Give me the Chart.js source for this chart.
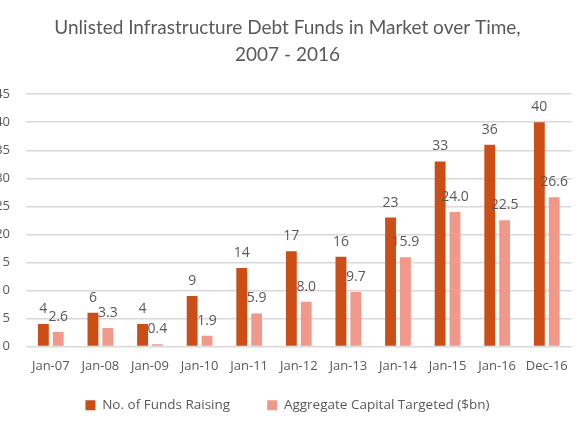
<!DOCTYPE html>
<html>
<head>
<meta charset="utf-8">
<script src="https://cdn.jsdelivr.net/npm/chart.js@4/dist/chart.umd.min.js"></script>
<style>
  html, body { margin: 0; padding: 0; background: #fff; }
  #wrap { width: 580px; height: 435px; position: relative; }
</style>
</head>
<body>
<div id="wrap"><canvas id="c" width="580" height="435"></canvas></div>
<script>
const categories = ["Jan-07","Jan-08","Jan-09","Jan-10","Jan-11","Jan-12","Jan-13","Jan-14","Jan-15","Jan-16","Dec-16"];
const fundsRaising = [4, 6, 4, 9, 14, 17, 16, 23, 33, 36, 40];
const capitalTargeted = [2.6, 3.3, 0.4, 1.9, 5.9, 8.0, 9.7, 15.9, 24.0, 22.5, 26.6];
const titleLines = ["Unlisted Infrastructure Debt Funds in Market over Time,", "2007 - 2016"];
const seriesNames = ["No. of Funds Raising", "Aggregate Capital Targeted ($bn)"];

const textColor = "#595959";
const font = "'Open Sans', 'Noto Sans', sans-serif";

const valueLabels = {
  id: 'valueLabels',
  afterDatasetsDraw(chart) {
    const ctx = chart.ctx;
    ctx.save();
    ctx.font = "14px " + font;
    ctx.fillStyle = textColor;
    ctx.textAlign = "center";
    ctx.textBaseline = "alphabetic";
    chart.data.datasets.forEach((ds, di) => {
      const meta = chart.getDatasetMeta(di);
      meta.data.forEach((bar, i) => {
        const v = ds.data[i];
        const txt = di === 0 ? String(v) : v.toFixed(1);
        ctx.fillText(txt, bar.x, bar.y - 11);
      });
    });
    ctx.restore();
  }
};

new Chart(document.getElementById('c'), {
  type: 'bar',
  data: {
    labels: categories,
    datasets: [
      { label: seriesNames[0], data: fundsRaising, backgroundColor: "#CB4E17",
        categoryPercentage: 0.6, barPercentage: 0.73 },
      { label: seriesNames[1], data: capitalTargeted, backgroundColor: "#F0998A",
        categoryPercentage: 0.6, barPercentage: 0.73 }
    ]
  },
  options: {
    responsive: false,
    animation: false,
    devicePixelRatio: 1,
    layout: { padding: { left: 0, right: 5, top: 0, bottom: 13 } },
    plugins: {
      title: {
        display: true,
        text: titleLines,
        color: textColor,
        font: { family: "Lato, 'Open Sans', sans-serif", size: 19, weight: 'normal', lineHeight: 1.4 },
        padding: { top: 15, bottom: 26 }
      },
      legend: {
        position: 'bottom',
        labels: {
          boxWidth: 10, boxHeight: 10,
          color: textColor,
          font: { family: font, size: 13.5 },
          padding: 23,
          generateLabels(chart) {
            const items = Chart.defaults.plugins.legend.labels.generateLabels(chart);
            items.forEach((it, i) => { if (i < items.length - 1) it.text = it.text + "    "; });
            return items;
          }
        }
      },
      tooltip: { enabled: false }
    },
    scales: {
      x: {
        afterFit(scale) { scale.height = 29; },
        grid: { display: false, drawTicks: false },
        border: { display: false },
        ticks: { color: textColor, font: { family: font, size: 13 }, padding: 12, maxRotation: 0 }
      },
      y: {
        min: 0, max: 45,
        afterFit(scale) { scale.width = 26; },
        grid: { color: "#D9D9D9", lineWidth: 1.5, drawTicks: false },
        border: { display: false },
        ticks: { stepSize: 5, color: textColor, font: { family: font, size: 13 }, padding: 16 }
      }
    }
  },
  plugins: [valueLabels]
});
</script>
</body>
</html>
